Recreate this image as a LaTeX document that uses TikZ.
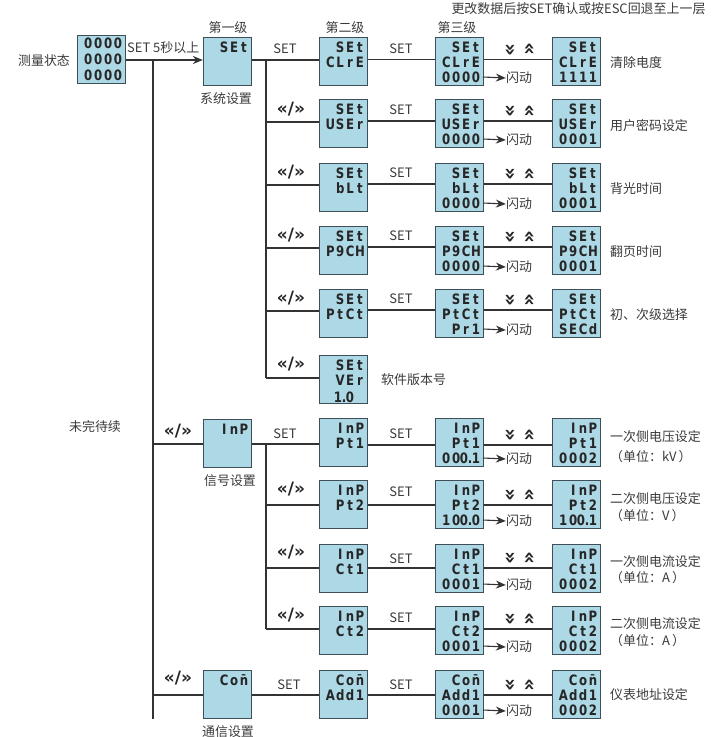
\documentclass[tikz,border=0pt]{standalone}
\usepackage{fontspec}
\usetikzlibrary{arrows.meta}
\setmainfont{Noto Sans CJK SC}
\newfontfamily\lcdfont{DejaVu Sans Bold}[FakeStretch=0.82]
\newfontfamily\chevfont{DejaVu Sans Bold}
\definecolor{lcdblue}{HTML}{ADD8E6}
\definecolor{lcdedge}{HTML}{3F4F58}
\definecolor{txt}{HTML}{3A3A3A}
\definecolor{ln}{HTML}{333333}
\ExplSyntaxOn
\NewDocumentCommand\lcdchars{m}{\tl_map_inline:nn{#1}{\makebox[9.9pt]{##1}}}
\ExplSyntaxOff
\tikzset{
  lcdbox/.style={draw=lcdedge,line width=1.3pt,fill=lcdblue,minimum size=48pt,inner sep=0pt,rectangle},
  lcdtxt/.style={anchor=east,inner sep=0pt,text=black!85,font=\lcdfont\fontsize{14.3}{14.3}\selectfont},
  lbl/.style={inner sep=0pt,yshift=-1pt,text=txt,font=\fontsize{12.95}{15}\selectfont},
  lblw/.style={lbl,anchor=west},
  wire/.style={draw=ln,line width=1.1pt},
  arr/.style={wire,-{Stealth[length=10pt,width=8pt]}},
  chev/.style={inner sep=0pt,yshift=-1pt,text=black!85,font=\chevfont\fontsize{17}{17}\selectfont},
  chevv/.style={chev,yshift=-1pt,font=\chevfont\fontsize{20}{20}\selectfont},
}
\newcommand{\lbox}[3]{\node[lcdbox] (#1) at (#2+24.5,#3+24.5) {};}
\newcommand{\lcdline}[3]{\node[lcdtxt] (#1-t#2) at ([xshift=-3pt,yshift={-(10.7+(#2-1)*15)*1pt}]#1.north east) {\lcdchars{#3}};}
% second, third, fourth boxes of a row: id, top, line y, line1, line2, value3, value4
\newcommand{\lrow}[7]{
  \coordinate (y#1) at (0,#3);
  \lbox{b#1}{319}{#2}\lbox{c#1}{435}{#2}\lbox{d#1}{552}{#2}
  \lcdline{b#1}{1}{#4}\lcdline{b#1}{2}{#5}
  \lcdline{c#1}{1}{#4}\lcdline{c#1}{2}{#5}\lcdline{c#1}{3}{#6}
  \lcdline{d#1}{1}{#4}\lcdline{d#1}{2}{#5}\lcdline{d#1}{3}{#7}
  \draw[wire] (b#1.east |- y#1) -- (c#1.west |- y#1);
  \draw[wire] (c#1.east |- y#1) -- (d#1.west |- y#1);
  \node[lbl] (f#1) at (519,#2+40) {闪动};
  \coordinate (s#1) at (483,#2+40);
  \draw[arr] (s#1) -- (f#1.west);
  \node[chevv,rotate=-90] (dn#1) at (510,#3-12) {»};
  \node[chevv,rotate=90] (up#1) at (530,#3-12) {»};
}
\newcommand{\swap}[3]{\node[chev] (#1) at (#2,#3) {«/»};}
\newcommand{\setl}[3]{\node[lbl] (#1) at (#2,#3) {SET};}
\begin{document}
\begin{tikzpicture}[x=1pt,y=-1pt]
\useasboundingbox (0,0) rectangle (726,737);
% top caption and level titles
\node[lbl] (cap) at (578.5,8) {更改数据后按SET确认或按ESC回退至上一层};
\node[lbl] (l1) at (228,27) {第一级};
\node[lbl] (l2) at (345,27) {第二级};
\node[lbl] (l3) at (457,27) {第三级};
% start
\node[lbl] (meas) at (44,60) {测量状态};
\lbox{start}{77}{35}
\foreach \i in {1,2,3}{\node[lcdtxt] (start-t\i) at ([xshift=-3pt,yshift={-(8.7+(\i-1)*16)*1pt}]start.north east) {\lcdchars{0000}};}
% level-one boxes
\lbox{aset}{203}{37}\lcdline{aset}{1}{SEt}
\lbox{ainp}{203}{419}\lcdline{ainp}{1}{InP}
\lbox{acon}{203}{670}\lcdline{acon}{1}{Co{\=n}}
\node[lblw,anchor=west] (start-lbl) at (127,47) {SET 5秒以上};
\node[lbl] (nset) at (226,98) {系统设置};
\node[lbl] (ninp) at (230,480) {信号设置};
\node[lbl] (ncon) at (228,731) {通信设置};
\node[lbl] (todo) at (95,426) {未完待续};
% rows
\lrow{1}{37}{59.5}{SEt}{CLrE}{0000}{1111}
\lrow{2}{99}{121}{SEt}{USEr}{0000}{0001}
\lrow{3}{163}{184}{SEt}{bLt}{0000}{0001}
\lrow{4}{226}{247}{SEt}{P9CH}{0000}{0001}
\lrow{5}{289}{310}{SEt}{PtCt}{Pr1}{SECd}
\lrow{6}{418}{445}{InP}{Pt1}{00{0.}1}{0002}
\lrow{7}{480}{505}{InP}{Pt2}{10{0.}0}{10{0.}1}
\lrow{8}{544}{568}{InP}{Ct1}{0001}{0002}
\lrow{9}{606}{629}{InP}{Ct2}{0001}{0002}
\lrow{10}{670}{695}{Co{\=n}}{Add1}{0001}{0002}
% version box
\lbox{bver}{319}{355}
\lcdline{bver}{1}{SEt}\lcdline{bver}{2}{VEr}
\node[lcdtxt] (bver-t3) at ([xshift=-13pt,yshift=-42pt]bver.north east) {\lcdchars{{1.}0}};
\node[lblw] (vlbl) at (381,379) {软件版本号};
% result labels
\node[lblw] (r1) at (610,62) {清除电度};
\node[lblw] (r2) at (610,125) {用户密码设定};
\node[lblw] (r3) at (610,188) {背光时间};
\node[lblw] (r4) at (610,251) {翻页时间};
\node[lblw] (r5) at (610,314) {初、次级选择};
\node[lblw] (r6) at (610,436) {一次侧电压设定};
\node[lblw] (r6b) at (610,456) {（单位：kV\,）};
\node[lblw] (r7) at (610,498) {二次侧电压设定};
\node[lblw] (r7b) at (610,515) {（单位：V\,）};
\node[lblw] (r8) at (610,561) {一次侧电流设定};
\node[lblw] (r8b) at (610,577) {（单位：A\,）};
\node[lblw] (r9) at (610,623) {二次侧电流设定};
\node[lblw] (r9b) at (610,640) {（单位：A\,）};
\node[lblw] (r10) at (610,694) {仪表地址设定};
% SET labels
\setl{sa1}{285}{48}\setl{sb1}{401}{48}
\setl{sb2}{401}{109}\setl{sb3}{401}{172}\setl{sb4}{401}{235}\setl{sb5}{401}{298}
\setl{sa6}{285}{433}\setl{sb6}{401}{433}
\setl{sb7}{401}{491}\setl{sb8}{401}{558}\setl{sb9}{401}{617}
\setl{sa10}{289}{684}\setl{sb10}{401}{684}
% swap labels
\swap{w2}{291}{108}\swap{w3}{291}{171}\swap{w4}{291}{234}\swap{w5}{291}{297}\swap{w6}{291}{363}
\swap{w7}{291}{488}\swap{w8}{291}{551}\swap{w9}{291}{614}
\swap{wi}{178}{430}\swap{wc}{178}{677}
% main wiring
\coordinate (mt) at (153,60);
\coordinate (mb) at (153,719);
\coordinate (mi) at (153,444);
\coordinate (mc) at (153,695);
\coordinate (t1) at (266,60);
\coordinate (t2) at (266,122);
\coordinate (t3) at (266,185);
\coordinate (t4) at (266,248);
\coordinate (t5) at (266,311);
\coordinate (t6) at (266,378);
\coordinate (u1) at (266,444);
\coordinate (u2) at (266,505);
\coordinate (u3) at (266,568);
\coordinate (u4) at (266,629);
\draw[arr] (start.east |- mt) -- (aset.west |- mt);
\draw[wire] (mt) -- (mb);
\draw[wire] (mi) -- (ainp.west |- mi);
\draw[wire] (mc) -- (acon.west |- mc);
\draw[wire] (aset.east |- t1) -- (b1.west |- t1);
\draw[wire] (t1) -- (t6);
\draw[wire] (t2) -- (b2.west |- t2);
\draw[wire] (t3) -- (b3.west |- t3);
\draw[wire] (t4) -- (b4.west |- t4);
\draw[wire] (t5) -- (b5.west |- t5);
\draw[wire] (t6) -- (bver.west |- t6);
\draw[wire] (ainp.east |- u1) -- (b6.west |- u1);
\draw[wire] (u1) -- (u4);
\draw[wire] (u2) -- (b7.west |- u2);
\draw[wire] (u3) -- (b8.west |- u3);
\draw[wire] (u4) -- (b9.west |- u4);
\draw[wire] (acon.east |- mc) -- (b10.west |- mc);
\end{tikzpicture}
\end{document}
